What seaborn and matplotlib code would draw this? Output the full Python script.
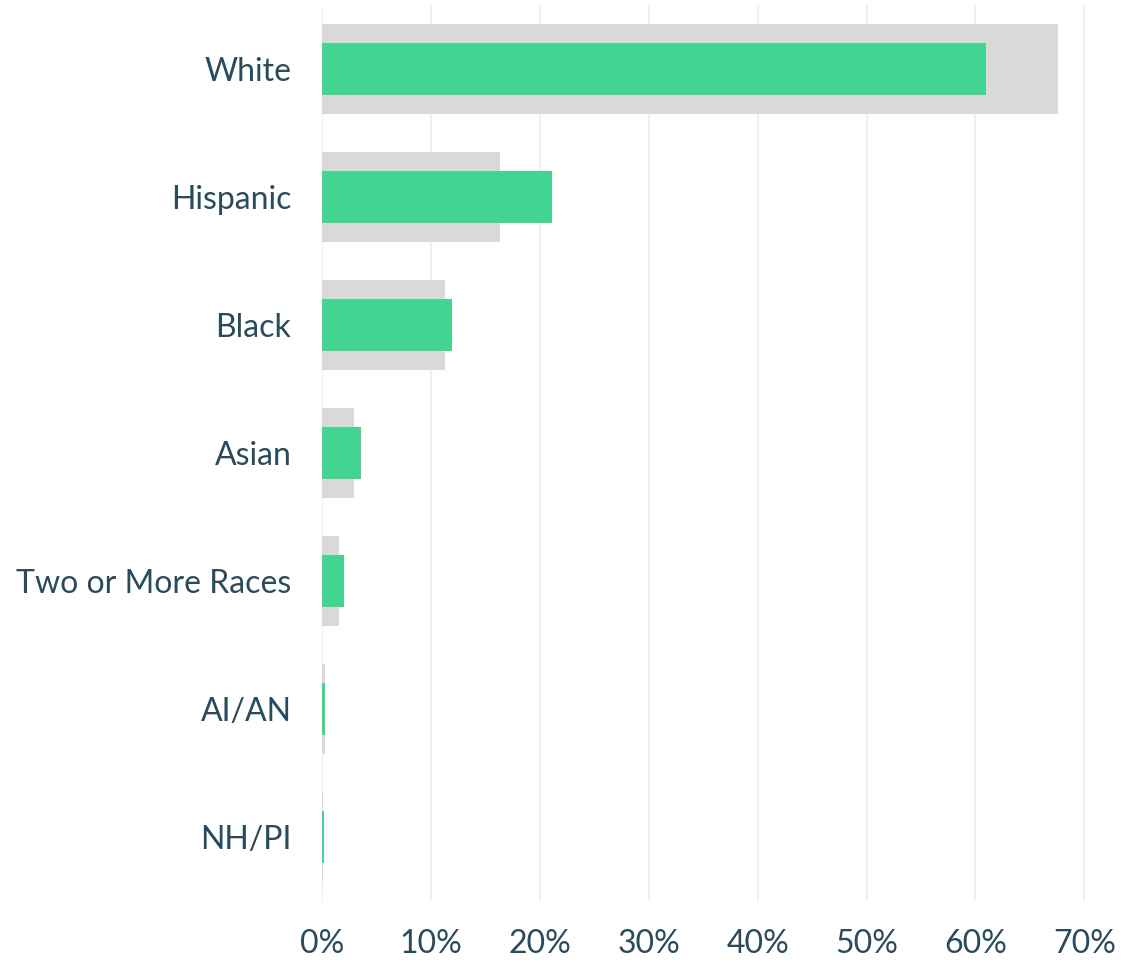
import matplotlib
matplotlib.use("Agg")
import matplotlib.pyplot as plt
import seaborn as sns
import pandas as pd
from matplotlib.ticker import FuncFormatter, MultipleLocator

groups = ["White", "Hispanic", "Black", "Asian", "Two or More Races", "AI/AN", "NH/PI"]
population_share = [67.6, 16.3, 11.3, 2.9, 1.6, 0.25, 0.1]
enrollment_share = [61.0, 21.1, 11.9, 3.6, 2.0, 0.25, 0.15]

df = pd.DataFrame({"group": groups,
                   "population": population_share,
                   "enrollment": enrollment_share})

sns.set_theme(style="white")
plt.rcParams["font.family"] = ["Lato", "DejaVu Sans"]
text_color = "#2a4b5c"

fig = plt.figure(figsize=(11.22, 9.6), dpi=100)
ax = fig.add_axes([322 / 1122, 1 - 901 / 960, (1122 - 322 - 30) / 1122, 896 / 960])

sns.barplot(data=df, x="population", y="group", order=groups, color="#d9d9d9",
            width=0.71, saturation=1, linewidth=0, ax=ax, zorder=2)
sns.barplot(data=df, x="enrollment", y="group", order=groups, color="#44d492",
            width=0.41, saturation=1, linewidth=0, ax=ax, zorder=3)

ax.set_xlim(0, 70.7)
ax.set_ylim(6.5, -0.5)
ax.xaxis.set_major_locator(MultipleLocator(10))
ax.xaxis.set_major_formatter(FuncFormatter(lambda v, _: f"{v:.0f}%"))
ax.grid(axis="x", color="#efefef", linewidth=1.5, zorder=0)
ax.set_axisbelow(True)
for s in ax.spines.values():
    s.set_visible(False)
ax.set_xlabel("")
ax.set_ylabel("")
ax.tick_params(axis="both", length=0, labelsize=23, colors=text_color)
ax.tick_params(axis="x", pad=20)
ax.tick_params(axis="y", pad=22)

fig.savefig("out.png", dpi=100)
